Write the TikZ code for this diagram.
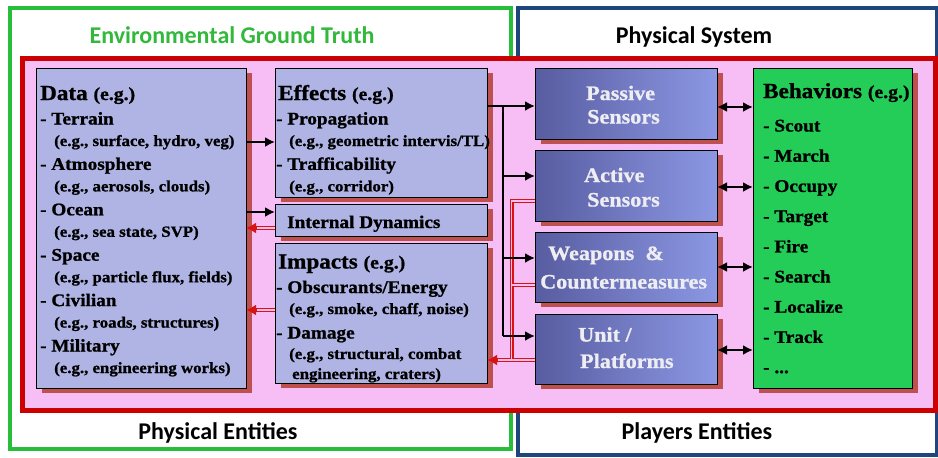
\documentclass[tikz,border=0pt]{standalone}
\usepackage{fontspec}
\usetikzlibrary{arrows.meta,shadows}
\newfontfamily\tnr[FakeStretch=1.08,FakeBold=1.0]{Liberation Serif Bold}
\newfontfamily\calb{Carlito Bold}
\definecolor{pinkbg}{RGB}{247,190,245}
\definecolor{redfr}{RGB}{204,0,0}
\definecolor{redl}{RGB}{215,20,20}
\definecolor{greenfr}{RGB}{40,190,60}
\definecolor{bluefr}{RGB}{30,70,125}
\definecolor{lavc}{RGB}{176,180,228}
\definecolor{shd}{RGB}{190,80,80}
\definecolor{sensL}{RGB}{88,92,160}
\definecolor{sensR}{RGB}{140,152,228}
\definecolor{behg}{RGB}{36,204,88}
\definecolor{titg}{RGB}{50,185,60}
\definecolor{senst}{RGB}{238,238,242}
\tikzset{
 bx/.style={draw=black, line width=0.7pt, inner sep=0pt, outer sep=0pt, anchor=north west,
   drop shadow={shadow xshift=6pt, shadow yshift=-5pt, opacity=1, fill=shd, draw=none}},
 lavbox/.style={bx, fill=lavc},
 sensbox/.style={bx, left color=sensL, right color=sensR},
 behbox/.style={bx, fill=behg},
 hd/.style={anchor=base west, inner sep=0pt, font=\tnr\fontsize{21.4}{24}\selectfont},
 it/.style={anchor=base west, inner sep=0pt, font=\tnr\fontsize{17.8}{20}\selectfont},
 sb/.style={anchor=base west, inner sep=0pt, font=\tnr\fontsize{15.6}{18}\selectfont},
 st/.style={anchor=base west, inner sep=0pt, text=senst, font=\tnr\fontsize{20.5}{22}\selectfont},
 ttl/.style={anchor=base, inner sep=0pt, font=\calb\fontsize{24}{28}\selectfont},
 blk/.style={line width=2.8pt, -{Latex[length=10pt,width=10pt]}},
 blkln/.style={line width=2.8pt},
 blkdbl/.style={line width=2.8pt, {Latex[length=10pt,width=10pt]}-{Latex[length=10pt,width=10pt]}},
 rout/.style={draw=redl, line width=4pt},
 rin/.style={draw=pinkbg, line width=1.6pt},
 rtip/.style={-{Latex[length=10pt,width=11pt]}},
}
\newcommand{\eg}{{\fontsize{18.3}{20}\selectfont(e.g.)}}
\begin{document}
\begin{tikzpicture}[x=1pt,y=-1pt]
\useasboundingbox (0,0) rectangle (938,458);
\fill[white] (0,0) rectangle (938,458);
% frames
\draw[greenfr, line width=3.5pt] (10,8) rectangle (511,449);
\draw[bluefr, line width=3.5pt] (518,8) rectangle (937,455);
\draw[redfr, line width=5pt, fill=pinkbg] (22,58) rectangle (935,410);
% titles
\node[ttl, text=titg] (t1) at (232,43) {Environmental Ground Truth};
\node[ttl] (t2) at (694,43) {Physical System};
\node[ttl] (t3) at (218,439) {Physical Entities};
\node[ttl] (t4) at (697,439) {Players Entities};
% boxes
\node[lavbox, minimum width=210pt, minimum height=320pt] (data) at (36,68) {};
\node[lavbox, minimum width=212pt, minimum height=129pt] (eff) at (275,68) {};
\node[lavbox, minimum width=212pt, minimum height=32pt] (intd) at (275,204) {};
\node[lavbox, minimum width=212pt, minimum height=140pt] (imp) at (275,243) {};
\node[sensbox, minimum width=182pt, minimum height=71pt] (pas) at (535,68) {};
\node[sensbox, minimum width=182pt, minimum height=71pt] (act) at (535,150) {};
\node[sensbox, minimum width=182pt, minimum height=70pt] (weap) at (535,232) {};
\node[sensbox, minimum width=182pt, minimum height=70pt] (unit) at (535,314) {};
\node[behbox, minimum width=159pt, minimum height=320pt] (beh) at (753,68) {};
% row coordinates
\coordinate (rP) at (0,106);
\coordinate (rA) at (0,176);
\coordinate (rW) at (0,258);
\coordinate (rU) at (0,336);
\coordinate (tr) at (503,106);
\coordinate (rx) at (511.5,0);
\coordinate (q1) at (0,201);
\coordinate (q2) at (0,285);
\coordinate (q3) at (0,360);
\coordinate (q4) at (0,228);
\coordinate (q5) at (0,310);
\coordinate (k1) at (0,142);
\coordinate (k2) at (0,212);
% red double connectors: outer
\draw[rout] (act.west |- q1) -| (rx |- q3);
\draw[rout] (weap.west |- q2) -- (rx |- q2);
\draw[rout, rtip] (unit.west |- q3) -- (imp.east |- q3);
\draw[rout, rtip] (intd.west |- q4) -- (data.east |- q4);
\draw[rout, rtip] (imp.west |- q5) -- (data.east |- q5);
% red double connectors: inner
\draw[rin] (act.west |- q1) -| (rx |- q3);
\draw[rin] (weap.west |- q2) -- (rx |- q2);
\draw[rin, shorten >=11pt] (unit.west |- q3) -- (imp.east |- q3);
\draw[rin, shorten >=11pt] (intd.west |- q4) -- (data.east |- q4);
\draw[rin, shorten >=11pt] (imp.west |- q5) -- (data.east |- q5);
% black connectors
\draw[blk] (data.east |- k1) -- (eff.west |- k1);
\draw[blk] (data.east |- k2) -- (intd.west |- k2);
\draw[blk] (eff.east |- rP) -- (pas.west |- rP);
\draw[blkln] (tr) -- (tr |- rU);
\draw[blk] (tr |- rA) -- (act.west |- rA);
\draw[blk] (tr |- rW) -- (weap.west |- rW);
\draw[blk] (tr |- rU) -- (unit.west |- rU);
\draw[blkdbl] (pas.east |- 0,107) -- (beh.west |- 0,107);
\draw[blkdbl] (act.east |- 0,187) -- (beh.west |- 0,187);
\draw[blkdbl] (weap.east |- 0,267) -- (beh.west |- 0,267);
\draw[blkdbl] (unit.east |- 0,350) -- (beh.west |- 0,350);
% data text
\node[hd] (d0) at (40,100) {Data \eg};
\node[it] (d1) at (40,124.5) {- Terrain};
\node[sb] (d2) at (54,146) {(e.g., surface, hydro, veg)};
\node[it] (d3) at (40,169.9) {- Atmosphere};
\node[sb] (d4) at (54,191.4) {(e.g., aerosols, clouds)};
\node[it] (d5) at (40,215.3) {- Ocean};
\node[sb] (d6) at (54,236.8) {(e.g., sea state, SVP)};
\node[it] (d7) at (40,260.7) {- Space};
\node[sb] (d8) at (54,282.2) {(e.g., particle flux, fields)};
\node[it] (d9) at (40,306.1) {- Civilian};
\node[sb] (d10) at (54,327.6) {(e.g., roads, structures)};
\node[it] (d11) at (40,351.5) {- Military};
\node[sb] (d12) at (54,373) {(e.g., engineering works)};
% effects text
\node[hd] (e0) at (278,100) {Effects \eg};
\node[it] (e1) at (276,124.5) {- Propagation};
\node[sb] (e2) at (289,146) {(e.g., geometric intervis/TL)};
\node[it] (e3) at (276,169.9) {- Trafficability};
\node[sb] (e4) at (289,191.4) {(e.g., corridor)};
% internal dynamics
\node[it] (i0) at (287,228) {Internal Dynamics};
% impacts text
\node[hd] (m0) at (278,268.5) {Impacts \eg};
\node[it] (m1) at (276,293) {- Obscurants/Energy};
\node[sb] (m2) at (289,314) {(e.g., smoke, chaff, noise)};
\node[it] (m3) at (276,338.5) {- Damage};
\node[sb] (m4) at (289,359) {(e.g., structural, combat};
\node[sb] (m5) at (292,379) {engineering, craters)};
% sensor texts
\node[st] (s1) at (586,100) {Passive};
\node[st] (s2) at (587,123.5) {Sensors};
\node[st] (s3) at (584,182) {Active};
\node[st] (s4) at (587,206.5) {Sensors};
\node[st] (s5) at (548,260) {Weapons \ \&};
\node[st] (s6) at (540,288.5) {Countermeasures};
\node[st] (s7) at (578,341.5) {Unit /};
\node[st] (s8) at (580,368) {Platforms};
% behaviors text
\node[hd] (b0) at (763,98) {Behaviors \eg};
\node[it] (b1) at (763,131.5) {- Scout};
\node[it] (b2) at (763,161.7) {- March};
\node[it] (b3) at (763,191.9) {- Occupy};
\node[it] (b4) at (763,222.1) {- Target};
\node[it] (b5) at (763,252.3) {- Fire};
\node[it] (b6) at (763,282.5) {- Search};
\node[it] (b7) at (763,312.7) {- Localize};
\node[it] (b8) at (763,342.9) {- Track};
\node[it] (b9) at (763,373.1) {- ...};
\end{tikzpicture}
\end{document}
